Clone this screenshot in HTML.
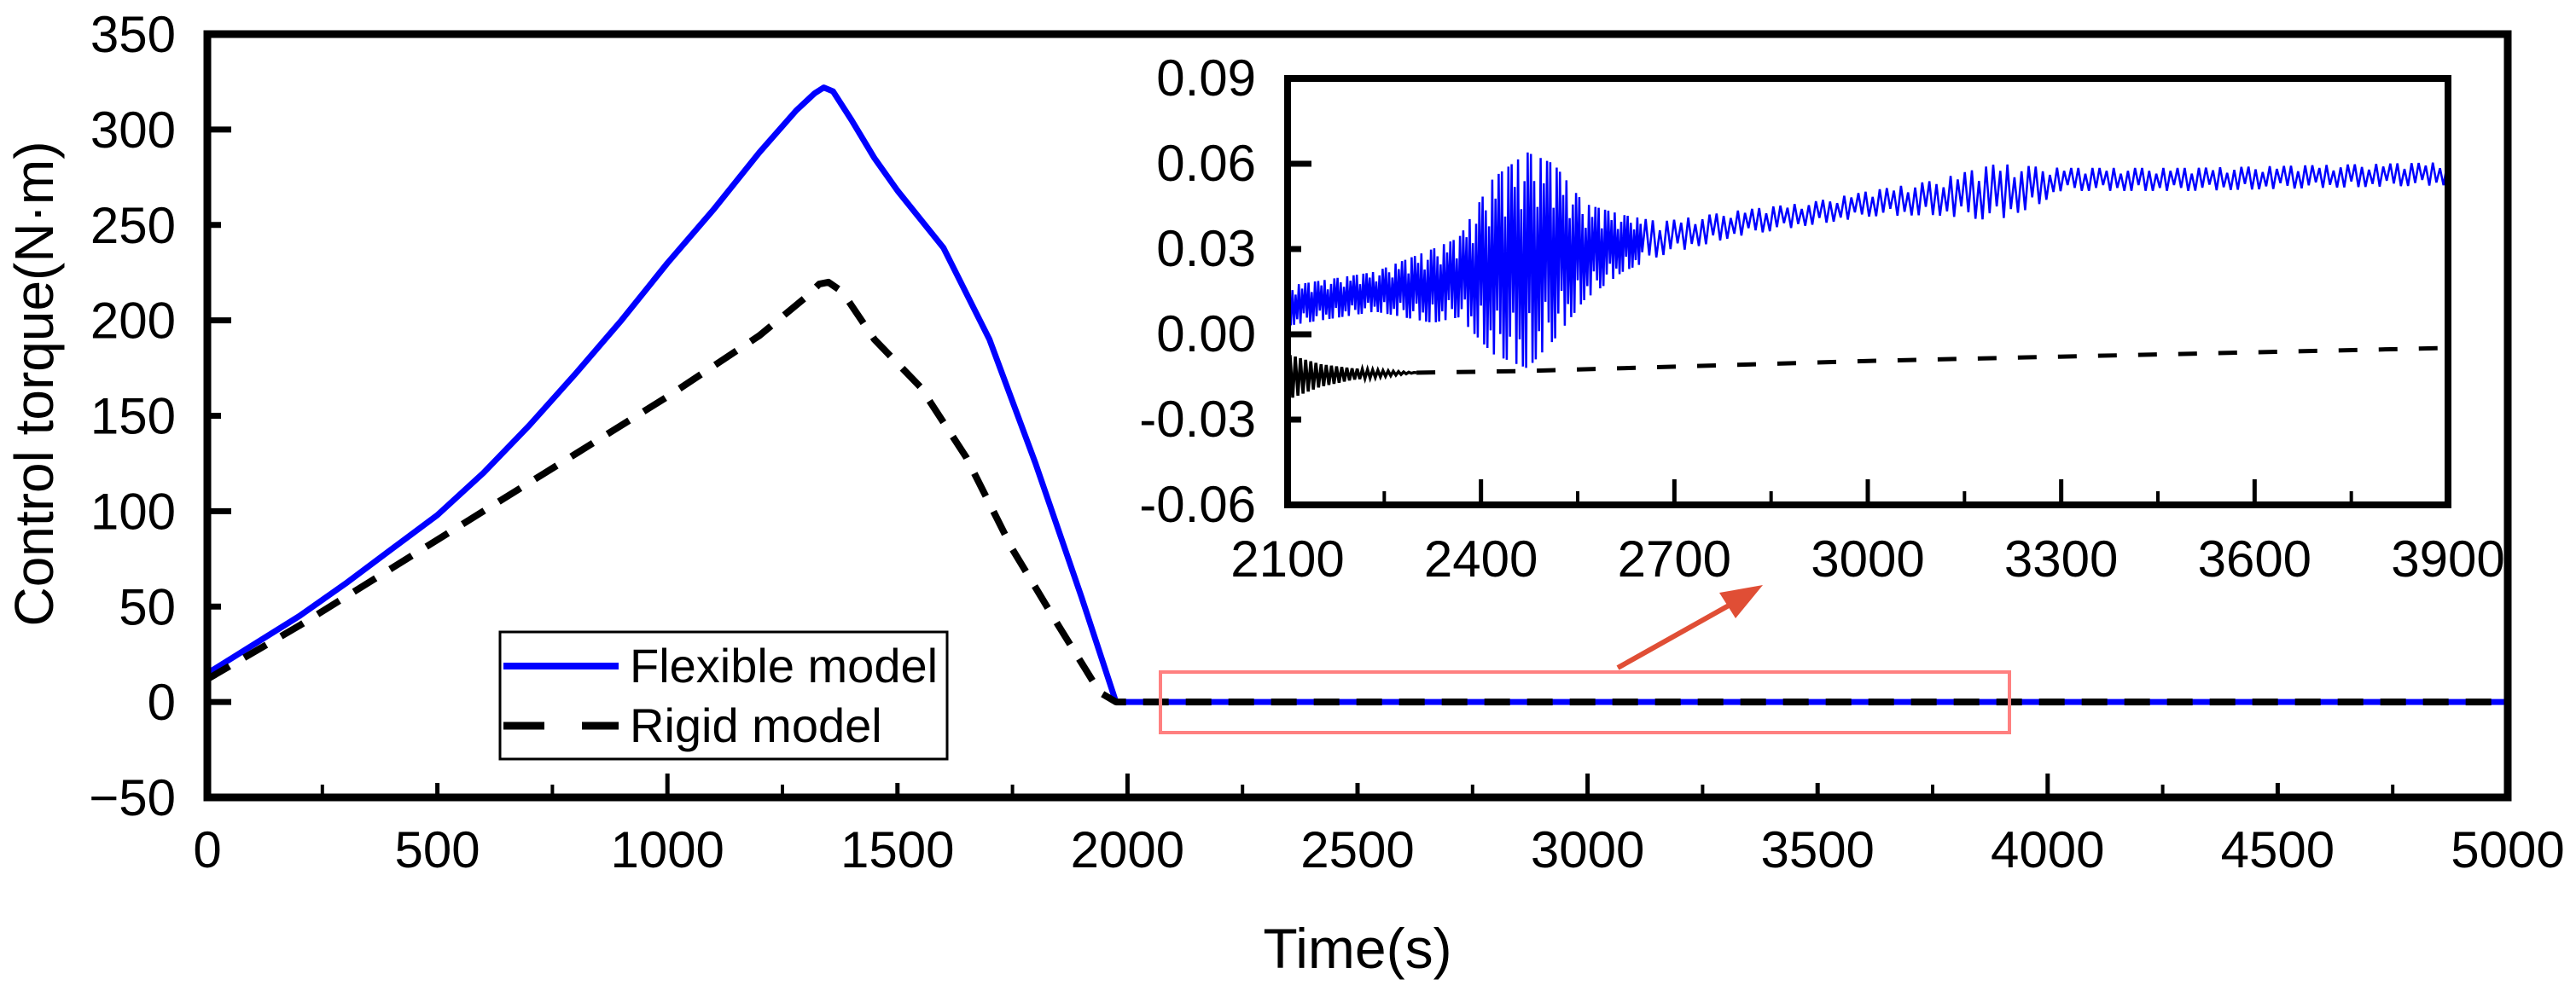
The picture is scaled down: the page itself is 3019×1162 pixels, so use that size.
<!DOCTYPE html>
<html><head><meta charset="utf-8"><style>
html,body{margin:0;padding:0;background:#fff;}
svg{display:block;font-family:"Liberation Sans",Arial,sans-serif;}
</style></head><body>
<svg id="chart" width="3019" height="1162" viewBox="0 0 3019 1162" xmlns="http://www.w3.org/2000/svg">
<g id="main"></g>
<g id="inset"></g>
</svg>
<script>
// ---- main chart data ----
const mainXTicks = [0,500,1000,1500,2000,2500,3000,3500,4000,4500,5000];
const mainYTicks = [-50,0,50,100,150,200,250,300,350];
const flexT = [0,100,200,300,400,500,600,700,800,900,1000,1100,1200,1280,1320,1340,1360,1400,1450,1500,1600,1700,1800,1900,1975,5000];
const flexV = [15,30,45,62,80,98,120,145,172,200,230,258,288,310,319,322,320,305,285,268,238,190,125,55,0,0];
const rigidT = [0,200,400,600,800,1000,1200,1300,1330,1350,1380,1450,1550,1650,1750,1850,1940,1975,5000];
const rigidV = [12,40,70,100,130,160,192,212,219,220,215,190,165,128,80,40,5,0,0];
// ---- inset data ----
const insetXTicks = [2100,2400,2700,3000,3300,3600,3900];
const insetYTicks = [-0.06,-0.03,0.00,0.03,0.06,0.09];
const insetYLabels = ["-0.06","-0.03","0.00","0.03","0.06","0.09"];
const flexEnvT = [2100,2236,2325,2366,2419,2472,2513,2560,2620,2678,2797,2915,3004,3100,3200,3260,3300,3500,3700,3900];
const flexCenter = [0.010,0.015,0.017,0.020,0.024,0.026,0.029,0.029,0.032,0.0336,0.039,0.0426,0.046,0.048,0.050,0.052,0.0545,0.0545,0.0555,0.0565];
const flexAmp = [0.007,0.007,0.013,0.014,0.031,0.038,0.031,0.017,0.010,0.006,0.0045,0.004,0.0045,0.006,0.010,0.007,0.004,0.004,0.004,0.004];
const rigidEnvT = [2100,2150,2200,2250,2300,2472,3013,3900];
const rigidCenter = [-0.015,-0.0145,-0.014,-0.0138,-0.0135,-0.0129,-0.0093,-0.0048];
const rigidAmp = [0.008,0.004,0.002,0.001,0,0,0,0];

const NS="http://www.w3.org/2000/svg";
function mk(tag,attrs,parent){const e=document.createElementNS(NS,tag);for(const k in attrs)e.setAttribute(k,attrs[k]);parent.appendChild(e);return e;}
function interp(ts,vs,t){if(t<=ts[0])return vs[0];for(let i=1;i<ts.length;i++){if(t<=ts[i]){const f=(t-ts[i-1])/(ts[i]-ts[i-1]);return vs[i-1]+f*(vs[i]-vs[i-1]);}}return vs[vs.length-1];}

const X0=243,X1=2939,Y0=935,Y1=40;
const mx=t=>X0+(t-0)/5000*(X1-X0);
const my=v=>Y0-(v+50)/400*(Y0-Y1);
const main=document.getElementById('main');

let d=flexT.map((t,i)=>(i?'L':'M')+mx(t).toFixed(1)+','+my(flexV[i]).toFixed(1)).join(' ');
let p=mk('path',{d:d,fill:'none',stroke:'#0000ff','stroke-width':7,'stroke-linejoin':'round'},main);


d=rigidT.map((t,i)=>(i?'L':'M')+mx(t).toFixed(1)+','+my(rigidV[i]).toFixed(1)).join(' ');
p=mk('path',{d:d,fill:'none',stroke:'#000','stroke-width':8,'stroke-dasharray':'30 20','stroke-linejoin':'round'},main);



let fr=mk('rect',{x:X0,y:Y1,width:X1-X0,height:Y0-Y1,fill:'none',stroke:'#000','stroke-width':9},main);


mainXTicks.forEach((t,i)=>{
  const x=mx(t);
  mk('line',{x1:x,x2:x,y1:Y0,y2:Y0-(i%2===0?28:17),stroke:'#000','stroke-width':5},main);
  const tx=mk('text',{x:x,y:Y0+82,'font-size':60,'text-anchor':'middle',fill:'#000'},main);
  tx.textContent=t;
  
  
});
for(let t=250;t<5000;t+=500){const x=mx(t);mk('line',{x1:x,x2:x,y1:Y0,y2:Y0-15,stroke:'#000','stroke-width':4},main);}
mainYTicks.forEach((v,i)=>{
  const y=my(v);
  mk('line',{x1:X0,x2:X0+(i%2===1?28:16),y1:y,y2:y,stroke:'#000','stroke-width':7},main);
  const tx=mk('text',{x:X0-37,y:y+21,'font-size':60,'text-anchor':'end',fill:'#000'},main);
  tx.textContent=v<0?'\u221250':v;
  
  
});
let xt=mk('text',{x:1591,y:1135,'font-size':66,'text-anchor':'middle',fill:'#000'},main);
xt.textContent='Time(s)';


let yt=mk('text',{x:0,y:0,'font-size':64,'text-anchor':'middle',fill:'#000',transform:'translate(62,450) rotate(-90)'},main);
yt.textContent='Control torque(N·m)';



const lg=mk('g',{},main);


mk('rect',{x:586,y:741,width:524,height:149,fill:'#fff',stroke:'#000','stroke-width':3},lg);
mk('line',{x1:590,x2:725,y1:781,y2:781,stroke:'#0000ff','stroke-width':8},lg);
let lt=mk('text',{x:738,y:800,'font-size':56,fill:'#000'},lg);lt.textContent='Flexible model';


mk('line',{x1:590,x2:725,y1:851,y2:851,stroke:'#000','stroke-width':9,'stroke-dasharray':'48 44'},lg);
lt=mk('text',{x:738,y:870,'font-size':56,fill:'#000'},lg);lt.textContent='Rigid model';



let zr=mk('rect',{x:1360,y:788,width:995,height:71,fill:'none',stroke:'#ff8080','stroke-width':4},main);


let ar=mk('g',{},main);


mk('line',{x1:1896,y1:783,x2:2035,y2:705,stroke:'#e04e35','stroke-width':6},ar);
mk('polygon',{points:'2066,686 2015,695 2034,725',fill:'#e04e35'},ar);

// ---- inset ----
const inset=document.getElementById('inset');
const IX0=1509,IX1=2869,IY0=592,IY1=92;
const ix=t=>IX0+(t-2100)/1800*(IX1-IX0);
const iy=v=>IY0-(v+0.06)/0.15*(IY0-IY1);
mk('rect',{x:IX0,y:IY1,width:IX1-IX0,height:IY0-IY1,fill:'#fff'},inset);
let pts=[];let k=0;
for(let t=2100;t<=3900;){
  const c=interp(flexEnvT,flexCenter,t),a=interp(flexEnvT,flexAmp,t);
  const m=(k%2?1:-1)*(k%5===0?0.5:(k%3===0?0.75:1));
  pts.push((k?'L':'M')+ix(t).toFixed(1)+','+iy(c+m*a).toFixed(1));k++;
  t+= t<2650 ? 2.5 : 5.5;
}
p=mk('path',{d:pts.join(' '),fill:'none',stroke:'#0000ff','stroke-width':2.5},inset);


pts=[];k=0;
for(let t=2100;t<=2300;t+=4){const c=interp(rigidEnvT,rigidCenter,t),a=interp(rigidEnvT,rigidAmp,t);pts.push((k?'L':'M')+ix(t).toFixed(1)+','+iy(c+(k%2?a:-a)).toFixed(1));k++;}
p=mk('path',{d:pts.join(' '),fill:'none',stroke:'#000','stroke-width':3.5},inset);


d=rigidEnvT.filter(t=>t>=2300).map((t,i)=>(i?'L':'M')+ix(t).toFixed(1)+','+iy(interp(rigidEnvT,rigidCenter,t)).toFixed(1)).join(' ');
p=mk('path',{d:d,fill:'none',stroke:'#000','stroke-width':5,'stroke-dasharray':'22 25'},inset);


fr=mk('rect',{x:IX0,y:IY1,width:IX1-IX0,height:IY0-IY1,fill:'none',stroke:'#000','stroke-width':8},inset);


insetXTicks.forEach((t,i)=>{
  const x=ix(t);
  mk('line',{x1:x,x2:x,y1:IY0,y2:IY0-30,stroke:'#000','stroke-width':5},inset);
  const tx=mk('text',{x:x,y:IY0+84,'font-size':60,'text-anchor':'middle',fill:'#000'},inset);
  tx.textContent=t;
  
  
});
for(let t=2250;t<3900;t+=300){const x=ix(t);mk('line',{x1:x,x2:x,y1:IY0,y2:IY0-16,stroke:'#000','stroke-width':4},inset);}
insetYTicks.forEach((v,i)=>{
  const y=iy(v);
  mk('line',{x1:IX0,x2:IX0+(i%2===0?28:16),y1:y,y2:y,stroke:'#000','stroke-width':7},inset);
  const tx=mk('text',{x:1472,y:y+20,'font-size':60,'text-anchor':'end',fill:'#000'},inset);
  tx.textContent=insetYLabels[i];
  
  
});
</script>
</body></html>
